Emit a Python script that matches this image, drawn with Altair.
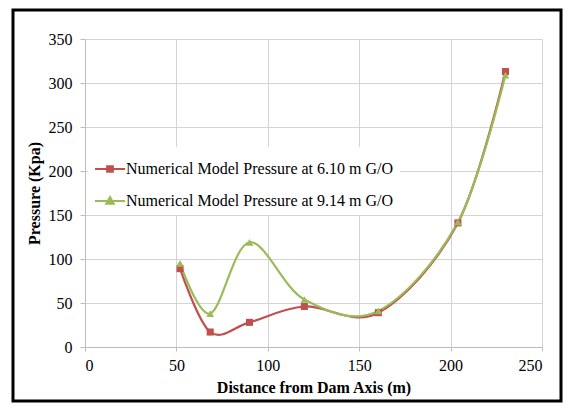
import altair as alt
import pandas as pd

# Data
distance = [52, 68.5, 90, 120, 160.5, 204, 230]
pressure_610 = [89, 17, 28, 46, 39, 141, 313]
pressure_914 = [95, 38, 119, 54, 41, 142, 309]
series_names = ["Numerical Model Pressure at 6.10 m G/O",
                "Numerical Model Pressure at 9.14 m G/O"]
series_colors = ["#C0504D", "#9BBB59"]
x_ticks = [0, 50, 100, 150, 200, 250]
y_ticks = [0, 50, 100, 150, 200, 250, 300, 350]

rows = []
for s, vals in zip(series_names, [pressure_610, pressure_914]):
    for d, p in zip(distance, vals):
        rows.append({"distance": d, "pressure": p, "series": s})
df = pd.DataFrame(rows)

FONT = "Liberation Serif"

# legend symbols: line segment with a marker in the middle
sq = "M-1,0L1,0M-0.19,-0.19L0.19,-0.19L0.19,0.19L-0.19,0.19Z"
tri = "M-1,0L1,0M0,-0.26L0.25,0.18L-0.25,0.18Z"


def make_legend():
    return alt.Legend(
        orient="none", legendX=3, legendY=108, title=None,
        fillColor="white", padding=6,
        labelFont=FONT, labelFontSize=16, labelColor="#000000", labelLimit=500,
        symbolSize=900, rowPadding=8, labelOffset=0, symbolStrokeWidth=2,
        symbolOpacity=1,
    )


col_scale = alt.Scale(domain=series_names, range=series_colors)

xenc = alt.X("distance:Q", scale=alt.Scale(domain=[0, 250], nice=False),
             axis=alt.Axis(values=x_ticks, title="Distance from Dam Axis (m)",
                           tickSize=4, labelPadding=6, titlePadding=6))
yenc = alt.Y("pressure:Q", scale=alt.Scale(domain=[0, 350], nice=False),
             axis=alt.Axis(values=y_ticks, title="Pressure (Kpa)",
                           tickSize=5, labelPadding=8, titlePadding=6))

base = alt.Chart(df)
lines = base.mark_line(interpolate="cardinal", strokeWidth=2.2).encode(
    x=xenc, y=yenc,
    stroke=alt.Stroke("series:N", scale=col_scale, legend=make_legend()),
    detail="series:N")

sq_pts = base.transform_filter(alt.datum.series == series_names[0]).mark_point(
    filled=True, opacity=1, size=50, shape="square", color=series_colors[0]).encode(x=xenc, y=yenc)
tri_pts = base.transform_filter(alt.datum.series == series_names[1]).mark_point(
    filled=True, opacity=1, size=60, shape="triangle-up", color=series_colors[1]).encode(x=xenc, y=yenc)

legend_dummy = base.transform_filter("false").mark_point(
    opacity=1, strokeWidth=2).encode(
    x=xenc, y=yenc,
    fill=alt.Fill("series:N", scale=col_scale, legend=make_legend()),
    stroke=alt.Stroke("series:N", scale=col_scale, legend=make_legend()),
    shape=alt.Shape("series:N", scale=alt.Scale(domain=series_names, range=[sq, tri]),
                    legend=make_legend()),
)

frame = alt.Chart(alt.Data(values=[{"a": 1}])).mark_rect(
    filled=False, stroke="black", strokeWidth=3, clip=False).encode(
    x=alt.value(-72), x2=alt.value(476), y=alt.value(-29), y2=alt.value(362))

chart = alt.layer(lines, sq_pts, tri_pts, legend_dummy, frame).properties(
    width=457, height=308,
    autosize=alt.AutoSizeParams(type="none"),
    padding={"left": 77, "top": 31, "right": 21, "bottom": 56},
).configure(font=FONT).configure_view(stroke=None).configure_axis(
    gridColor="#d4d4d4", domainColor="#bdbdbd", tickColor="#bdbdbd",
    labelFont=FONT, labelFontSize=16, labelColor="#000000",
    titleFont=FONT, titleFontSize=16, titleFontWeight="bold", titleColor="#000000",
)

chart.save("out.html", embed_options={"renderer": "svg", "actions": False})
